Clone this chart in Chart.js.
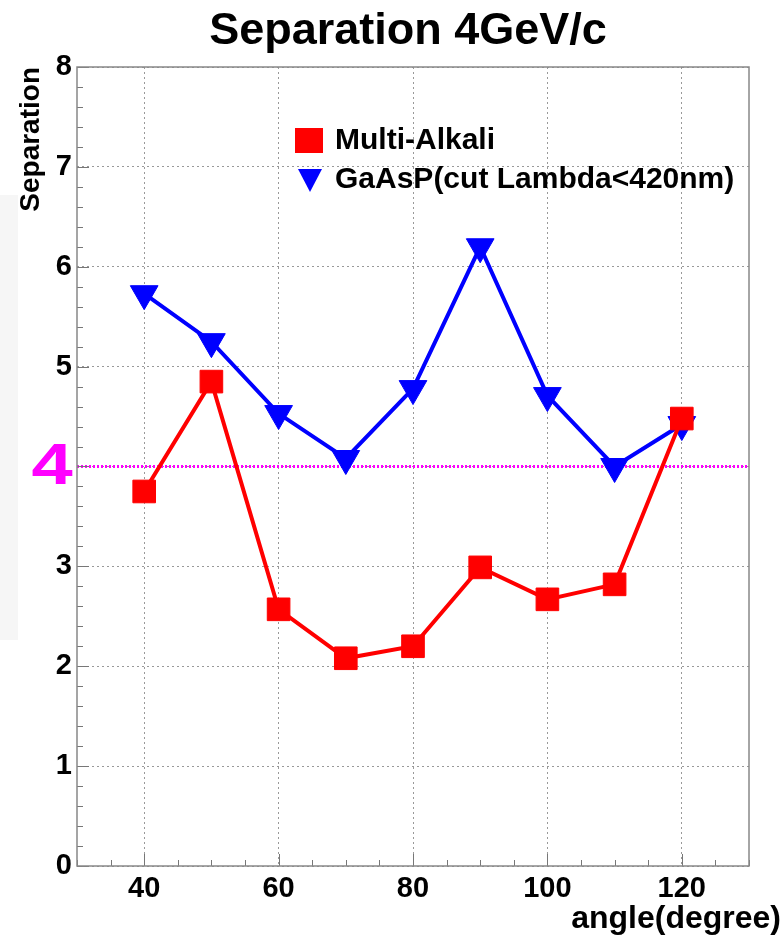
<!DOCTYPE html>
<html>
<head>
<meta charset="utf-8">
<script src="https://cdn.jsdelivr.net/npm/chart.js@4"></script>
<style>
  html, body { margin: 0; padding: 0; background: #fff; }
  #wrap { position: relative; width: 784px; height: 937px; }
  #strip { position: absolute; left: 0; top: 195px; width: 18px; height: 445px; background: #f6f6f6; }
  canvas { position: absolute; left: 0; top: 0; }
</style>
</head>
<body>
<div id="wrap">
  <div id="strip"></div>
  <canvas id="sepChart" width="784" height="937"></canvas>
</div>
<script>
const angles = [40, 50, 60, 70, 80, 90, 100, 110, 120];
const multiAlkali = [3.75, 4.85, 2.57, 2.08, 2.2, 2.99, 2.67, 2.82, 4.48];
const gaasp = [5.73, 5.25, 4.53, 4.08, 4.78, 6.2, 4.71, 4.0, 4.42];
const xTickValues = [40, 60, 80, 100, 120];
const thresholdValue = 4;
const xRange = [30, 130];
const yRange = [0, 8];

const FONT = "'Liberation Sans', Arial, Helvetica, sans-serif";

// ROOT-like look: frame, inner ticks, threshold line, legend, titles
const rootStyle = {
    id: "rootStyle",
    beforeDatasetsDraw(chart) {
        const ctx = chart.ctx;
        const a = chart.chartArea;
        const xs = chart.scales.x, ys = chart.scales.y;
        ctx.save();
        // threshold line
        const ty = ys.getPixelForValue(thresholdValue);
        ctx.strokeStyle = "#ff00ff";
        ctx.lineWidth = 3;
        ctx.setLineDash([2, 2]);
        ctx.beginPath();
        ctx.moveTo(a.left, ty);
        ctx.lineTo(a.right, ty);
        ctx.stroke();
        ctx.setLineDash([]);
        // ticks along axes
        ctx.strokeStyle = "#777";
        ctx.lineWidth = 1;
        ctx.beginPath();
        for (let v = yRange[0]; v <= yRange[1] + 1e-9; v += 0.2) {
            const y = Math.round(ys.getPixelForValue(v)) + 0.5;
            const major = Math.abs(v - Math.round(v)) < 1e-6;
            ctx.moveTo(a.left, y);
            ctx.lineTo(a.left + (major ? 12 : 6), y);
        }
        for (let v = xRange[0]; v <= xRange[1] + 1e-9; v += 5) {
            const x = Math.round(xs.getPixelForValue(v)) + 0.5;
            const major = v % 20 === 0;
            ctx.moveTo(x, a.bottom);
            ctx.lineTo(x, a.bottom - (major ? 12 : 6));
        }
        ctx.stroke();
        // frame
        ctx.strokeStyle = "#888";
        ctx.lineWidth = 1.5;
        ctx.strokeRect(a.left, a.top, a.right - a.left, a.bottom - a.top);
        ctx.restore();
    },
    afterDraw(chart) {
        const ctx = chart.ctx;
        const ys = chart.scales.y;
        ctx.save();
        // title
        ctx.fillStyle = "#000";
        ctx.font = "bold 45px " + FONT;
        ctx.textAlign = "center";
        ctx.textBaseline = "middle";
        ctx.fillText("Separation 4GeV/c", 408, 32);
        // big "4" label
        ctx.save();
        ctx.translate(52, ys.getPixelForValue(thresholdValue));
        ctx.scale(1.3, 1);
        ctx.fillStyle = "#ff00ff";
        ctx.font = "bold 57px " + FONT;
        ctx.fillText(String(thresholdValue), 0, 2);
        ctx.restore();
        // legend
        ctx.fillStyle = "#000";
        ctx.font = "bold 30px " + FONT;
        ctx.textAlign = "left";
        ctx.fillText("Multi-Alkali", 335, 141);
        ctx.fillText("GaAsP(cut Lambda<420nm)", 335, 180);
        ctx.fillStyle = "#ff0000";
        ctx.fillRect(295, 128, 28, 25);
        ctx.fillStyle = "#0000ff";
        ctx.beginPath();
        ctx.moveTo(298, 169);
        ctx.lineTo(322, 169);
        ctx.lineTo(310, 192);
        ctx.closePath();
        ctx.fill();
        // x axis title
        ctx.fillStyle = "#000";
        ctx.font = "bold 32px " + FONT;
        ctx.textAlign = "right";
        ctx.textBaseline = "alphabetic";
        ctx.fillText("angle(degree)", 781, 928);
        ctx.restore();
    }
};

new Chart(document.getElementById("sepChart"), {
    type: "line",
    data: {
        datasets: [
            {
                label: "Multi-Alkali",
                data: angles.map((a, i) => ({ x: a, y: multiAlkali[i] })),
                borderColor: "#ff0000",
                backgroundColor: "#ff0000",
                borderWidth: 4,
                pointStyle: "rect",
                pointRadius: 16,
                pointBorderWidth: 1,
                pointBackgroundColor: "#ff0000",
                pointBorderColor: "#ff0000",
                tension: 0
            },
            {
                label: "GaAsP(cut Lambda<420nm)",
                data: angles.map((a, i) => ({ x: a, y: gaasp[i] })),
                borderColor: "#0000ff",
                backgroundColor: "#0000ff",
                borderWidth: 4,
                pointStyle: "triangle",
                pointRotation: 180,
                pointRadius: 16,
                pointBorderWidth: 1,
                pointBackgroundColor: "#0000ff",
                pointBorderColor: "#0000ff",
                tension: 0
            }
        ]
    },
    options: {
        responsive: false,
        animation: false,
        layout: { padding: { left: 14, right: 35, top: 67, bottom: 0 } },
        plugins: {
            legend: { display: false },
            tooltip: { enabled: false },
            title: { display: false }
        },
        scales: {
            x: {
                type: "linear",
                min: xRange[0],
                max: xRange[1],
                afterFit(scale) { scale.height = 71; },
                afterBuildTicks(scale) {
                    scale.ticks = xTickValues.map(v => ({ value: v }));
                },
                grid: {
                    color: "#999",
                    lineWidth: 1,
                    drawTicks: false
                },
                border: { display: false, dash: [2, 3] },
                ticks: {
                    color: "#000",
                    padding: 6,
                    font: { family: FONT, size: 29, weight: "bold" }
                }
            },
            y: {
                min: yRange[0],
                max: yRange[1],
                afterFit(scale) { scale.width = 63; },
                ticks: {
                    stepSize: 1,
                    color: "#000",
                    padding: 5,
                    font: { family: FONT, size: 29, weight: "bold" },
                    // the threshold value is labelled by the big magenta digit instead
                    callback: v => (v === thresholdValue ? "" : v)
                },
                grid: {
                    color: "#999",
                    lineWidth: 1,
                    drawTicks: false
                },
                border: { display: false, dash: [2, 3] },
                title: {
                    display: true,
                    text: "Separation",
                    align: "end",
                    color: "#000",
                    padding: { top: 0, bottom: 0 },
                    font: { family: FONT, size: 28, weight: "bold" }
                }
            }
        }
    },
    plugins: [rootStyle]
});
</script>
</body>
</html>
